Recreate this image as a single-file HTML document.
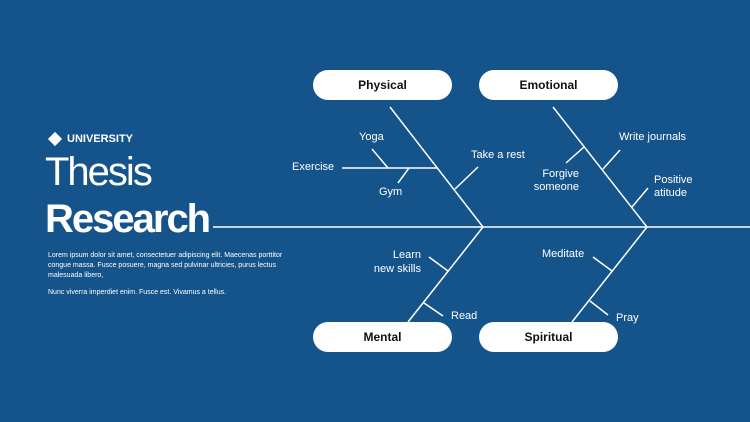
<!DOCTYPE html>
<html><head><style>
body{margin:0;width:750px;height:422px;background:#15548b;overflow:hidden;font-family:"Liberation Sans",sans-serif;color:#fff;position:relative}
.a{position:absolute;white-space:nowrap}
.pill{position:absolute;width:139px;height:30px;border-radius:15px;background:#fff;color:#111;font-weight:bold;font-size:12px;text-align:center;line-height:30px}
.l{position:absolute;font-size:11px;line-height:13px;white-space:nowrap}
</style></head><body>
<svg width="750" height="422" style="position:absolute;left:0;top:0" stroke="#fff" stroke-width="1.5" fill="none">
<line x1="213" y1="227" x2="750" y2="227"/>
<line x1="390" y1="107" x2="483" y2="227"/>
<line x1="553" y1="107" x2="647" y2="227"/>
<line x1="483" y1="227" x2="408" y2="322"/>
<line x1="647" y1="227" x2="572" y2="322"/>
<line x1="342" y1="168" x2="437" y2="168"/>
<line x1="372" y1="149" x2="388" y2="168"/>
<line x1="409" y1="168" x2="398" y2="183"/>
<line x1="455" y1="189" x2="478" y2="167"/>
<line x1="584" y1="147" x2="566" y2="163"/>
<line x1="603" y1="169" x2="620" y2="150"/>
<line x1="632" y1="207" x2="648" y2="188"/>
<line x1="429" y1="257" x2="448" y2="271"/>
<line x1="424" y1="303" x2="443" y2="316"/>
<line x1="612" y1="271" x2="593" y2="257"/>
<line x1="590" y1="301" x2="608" y2="315"/>
<rect x="50" y="134" width="10" height="10" transform="rotate(45 55 139)" fill="#fff" stroke="none"/>
</svg>
<div class="a" style="left:67px;top:133px;font-size:11px;font-weight:bold">UNIVERSITY</div>
<div class="a" style="left:45px;top:150px;font-size:40px;letter-spacing:-2px;line-height:44px">Thesis</div>
<div class="a" style="left:45px;top:197px;font-size:40px;font-weight:bold;letter-spacing:-2px;line-height:44px">Research</div>
<div class="a" style="left:48px;top:251px;font-size:7px;line-height:10px;white-space:normal;width:258px">Lorem ipsum dolor sit amet, consectetuer adipiscing elit. Maecenas porttitor congue massa. Fusce posuere, magna sed pulvinar ultricies, purus lectus malesuada libero,</div>
<div class="a" style="left:48px;top:289px;font-size:7px">Nunc viverra imperdiet enim. Fusce est. Vivamus a tellus.</div>
<div class="pill" style="left:313px;top:70px">Physical</div>
<div class="pill" style="left:479px;top:70px">Emotional</div>
<div class="pill" style="left:313px;top:322px">Mental</div>
<div class="pill" style="left:479px;top:322px">Spiritual</div>
<div class="l" style="left:359px;top:131px">Yoga</div>
<div class="l" style="left:292px;top:161px">Exercise</div>
<div class="l" style="left:379px;top:186px">Gym</div>
<div class="l" style="left:471px;top:149px">Take a rest</div>
<div class="l" style="left:619px;top:131px">Write journals</div>
<div class="l" style="right:171px;top:168px;text-align:right">Forgive<br>someone</div>
<div class="l" style="left:654px;top:174px">Positive<br>atitude</div>
<div class="l" style="right:329px;top:248px;text-align:right;line-height:14px">Learn<br>new skills</div>
<div class="l" style="left:451px;top:310px">Read</div>
<div class="l" style="left:542px;top:248px">Meditate</div>
<div class="l" style="left:616px;top:312px">Pray</div>
</body></html>
